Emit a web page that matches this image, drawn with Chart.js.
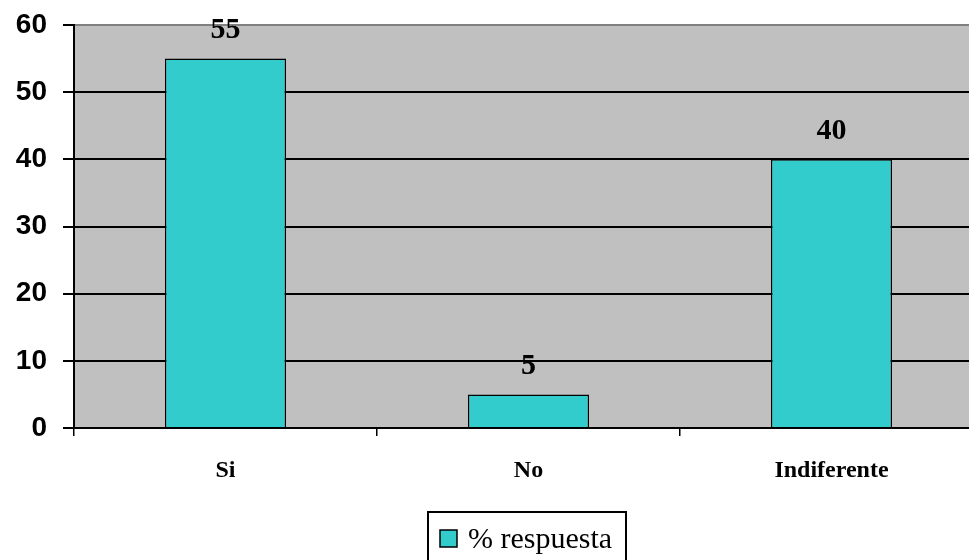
<!DOCTYPE html>
<html>
<head>
<meta charset="utf-8">
<script src="https://cdn.jsdelivr.net/npm/chart.js@4"></script>
<style>
  html, body { margin: 0; padding: 0; background: #fff; overflow: hidden; }
  #wrap { width: 983px; height: 560px; }
</style>
</head>
<body>
<div id="wrap"><canvas id="chart" width="983" height="560"></canvas></div>
<script>
const categories = ['Si', 'No', 'Indiferente'];
const respuesta = [55, 5, 40];
const seriesLabel = '% respuesta';
const yTicks = [0, 10, 20, 30, 40, 50, 60];

// gray plot area
const plotBackground = {
    id: 'plotBackground',
    beforeDraw(chart) {
        const { ctx, chartArea: a } = chart;
        ctx.save();
        ctx.fillStyle = '#C0C0C0';
        ctx.fillRect(a.left, a.top, a.right - a.left, a.bottom - a.top);
        ctx.restore();
    }
};

// value above each bar
const valueLabels = {
    id: 'valueLabels',
    afterDatasetsDraw(chart) {
        const ctx = chart.ctx;
        const meta = chart.getDatasetMeta(0);
        ctx.save();
        ctx.fillStyle = '#000';
        ctx.font = 'bold 30px "Liberation Serif", serif';
        ctx.textAlign = 'center';
        ctx.textBaseline = 'middle';
        meta.data.forEach((bar, i) => {
            ctx.fillText(chart.data.datasets[0].data[i], bar.x, bar.y - 28);
        });
        ctx.restore();
    }
};

// boxed legend under the chart
const boxLegend = {
    id: 'boxLegend',
    afterDraw(chart) {
        const ctx = chart.ctx;
        const ds = chart.data.datasets[0];
        ctx.save();
        ctx.strokeStyle = '#000';
        ctx.lineWidth = 2;
        ctx.strokeRect(428, 512, 198, 60);
        ctx.fillStyle = ds.backgroundColor;
        ctx.fillRect(440, 530, 17, 17);
        ctx.lineWidth = 1.5;
        ctx.strokeRect(440, 530, 17, 17);
        ctx.fillStyle = '#000';
        ctx.font = '30px "Liberation Serif", serif';
        ctx.textAlign = 'left';
        ctx.textBaseline = 'middle';
        ctx.fillText(ds.label, 468, 540);
        ctx.restore();
    }
};

new Chart(document.getElementById('chart'), {
    type: 'bar',
    data: {
        labels: categories,
        datasets: [{
            label: seriesLabel,
            data: respuesta,
            backgroundColor: '#33CCCC',
            borderColor: '#000',
            borderWidth: 1.5,
            barPercentage: 0.4,
            categoryPercentage: 1.0
        }]
    },
    options: {
        responsive: false,
        animation: false,
        layout: { padding: { top: 25, right: 0, bottom: 72, left: 0 } },
        scales: {
            y: {
                min: 0,
                max: 60,
                afterBuildTicks(scale) {
                    scale.ticks = yTicks.map(v => ({ value: v }));
                },
                afterFit(scale) {
                    scale.width = 74;
                    scale.paddingTop = 0;
                    scale.paddingBottom = 0;
                },
                ticks: {
                    padding: 16,
                    color: '#000',
                    font: { family: '"Liberation Sans", Arial, sans-serif', size: 28, weight: 'bold' }
                },
                grid: {
                    color: ctx => ctx.tick && ctx.tick.value === 60 ? '#808080' : '#000',
                    lineWidth: 2,
                    tickLength: 11,
                    tickColor: '#000'
                },
                border: { color: '#000', width: 2 }
            },
            x: {
                afterFit(scale) { scale.height = 60; },
                ticks: {
                    padding: 20,
                    color: '#000',
                    font: { family: '"Liberation Serif", "Times New Roman", serif', size: 24, weight: 'bold' }
                },
                grid: {
                    drawOnChartArea: false,
                    offset: true,
                    tickLength: 8,
                    color: '#000',
                    lineWidth: 1.5
                },
                border: { color: '#000', width: 2 }
            }
        },
        plugins: {
            legend: { display: false },
            tooltip: { enabled: false }
        }
    },
    plugins: [plotBackground, valueLabels, boxLegend]
});
</script>
</body>
</html>
